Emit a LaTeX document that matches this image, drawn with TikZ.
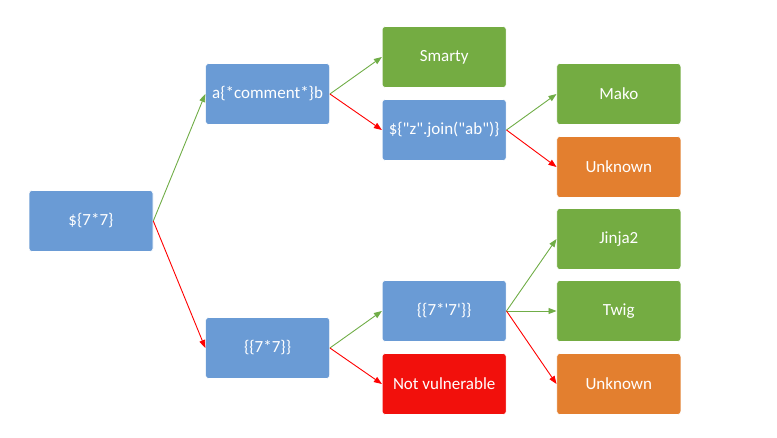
\documentclass[tikz,border=0pt]{standalone}
\usepackage{fontspec}
\newfontfamily\boxfont{Carlito}
\usetikzlibrary{positioning,arrows.meta}
\definecolor{boxblue}{HTML}{6A9BD5}
\definecolor{boxgreen}{HTML}{74AC42}
\definecolor{boxorange}{HTML}{E37F2F}
\definecolor{boxred}{HTML}{F2100C}
\definecolor{arrowgreen}{HTML}{70AD47}
\definecolor{arrowred}{HTML}{FF0000}
\begin{document}
\begin{tikzpicture}[
    node distance=52pt,
    probe/.style={rectangle, rounded corners=3pt, draw=white, line width=0.6pt, minimum width=124pt, minimum height=61pt, text=white, font=\boxfont\fontsize{17}{20}\selectfont},
    test/.style={probe, fill=boxblue},
    engine/.style={probe, fill=boxgreen},
    unknown/.style={probe, fill=boxorange},
    novuln/.style={probe, fill=boxred},
    yes/.style={-{Triangle[length=8pt,width=6pt]}, arrowgreen, line width=0.9pt},
    no/.style={-{Triangle[length=8pt,width=6pt]}, arrowred, line width=0.9pt}
]
\useasboundingbox (0,0) rectangle (777pt,-438pt);

% First probe
\node[test] (root) at (91pt,-221pt) {\$\{7*7\}};

% Second column
\node[test, right=of root, yshift=127pt] (comment) {a\{*comment*\}b};
\node[test, right=of root, yshift=-127pt] (curly) {\{\{7*7\}\}};

% Third column
\node[engine, right=of comment, yshift=37pt] (smarty) {Smarty};
\node[test, right=of comment, yshift=-36pt] (join) {\$\{"z".join("ab")\}};
\node[test, right=of curly, yshift=37pt] (mult) {\{\{7*'7'\}\}};
\node[novuln, right=of curly, yshift=-36pt] (notvuln) {Not vulnerable};

% Fourth column
\node[engine, right=50pt of join, yshift=36pt] (mako) {Mako};
\node[unknown, right=50pt of join, yshift=-37pt] (unk1) {Unknown};
\node[engine, right=50pt of mult, yshift=72pt] (jinja) {Jinja2};
\node[engine, right=50pt of mult] (twig) {Twig};
\node[unknown, right=50pt of mult, yshift=-73pt] (unk2) {Unknown};

% Arrows
\draw[yes] (root.east) -- (comment.west);
\draw[no] (root.east) -- (curly.west);
\draw[yes] (comment.east) -- (smarty.west);
\draw[no] (comment.east) -- (join.west);
\draw[yes] (curly.east) -- (mult.west);
\draw[no] (curly.east) -- (notvuln.west);
\draw[yes] (join.east) -- (mako.west);
\draw[no] (join.east) -- (unk1.west);
\draw[yes] (mult.east) -- (jinja.west);
\draw[yes] (mult.east) -- (twig.west);
\draw[no] (mult.east) -- (unk2.west);

\end{tikzpicture}
\end{document}
